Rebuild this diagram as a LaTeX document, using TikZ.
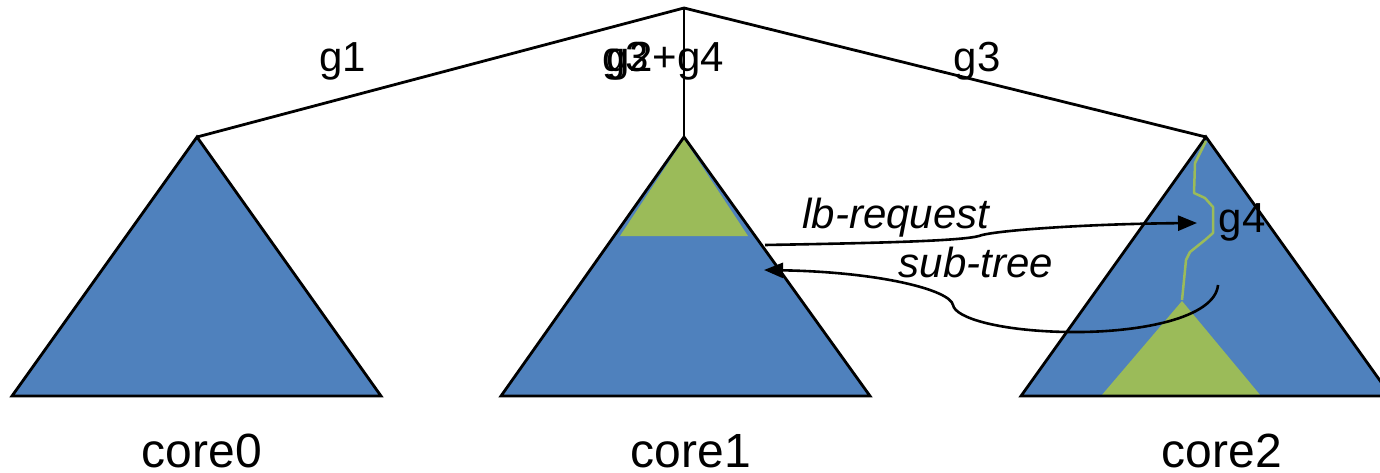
\documentclass[tikz,border=0pt]{standalone}
\usepackage{fontspec}
\setmainfont{Liberation Sans}
\usetikzlibrary{arrows.meta}
\definecolor{triblue}{HTML}{4F81BD}
\definecolor{trigreen}{HTML}{9BBB59}
\tikzset{
  tri/.style={fill=triblue},
  triline/.style={draw=black, line width=2.8pt, line join=miter},
  subfill/.style={fill=trigreen},
  treeline/.style={draw=black, line width=2.8pt},
  glabel/.style={anchor=base, inner sep=0pt, font=\fontsize{42}{44}\selectfont},
  corelabel/.style={anchor=base, inner sep=0pt, font=\fontsize{48}{50}\selectfont},
  msglabel/.style={anchor=base, inner sep=0pt, font=\fontsize{42}{44}\selectfont\itshape},
  msgarrow/.style={draw=black, line width=2.6pt, -{Triangle[length=19pt,width=15pt]}},
  path4/.style={draw=trigreen, line width=2.5pt, line join=round}
}
\begin{document}
\begin{tikzpicture}[x=1pt,y=-1pt]
\useasboundingbox (0,0) rectangle (1380,473);
\clip (0,0) rectangle (1380,473);
% coordinates
\coordinate (root) at (684,8);
\coordinate (a0) at (197,137);
\coordinate (a1) at (684,137);
\coordinate (a2) at (1206,137);
% triangles
\fill[tri] (a0) -- (381,396) -- (12,396) -- cycle;
\fill[tri] (a1) -- (870,396) -- (501,396) -- cycle;
\fill[tri] (a2) -- (1391,396) -- (1021,396) -- cycle;
% green subtrees
\fill[subfill] (684,139) -- (748,236) -- (620,236) -- cycle;
\fill[subfill] (1182,301) -- (1261,396) -- (1101,396) -- cycle;
% outlines
\draw[triline] (a0) -- (381,396) -- (12,396) -- cycle;
\draw[triline] (a1) -- (870,396) -- (501,396) -- cycle;
\draw[triline] (a2) -- (1391,396) -- (1021,396) -- cycle;
% tree lines
\draw[treeline] (a0) -- (root) -- (a2);
\draw[treeline] (root) -- (a1);
% green path
\draw[path4] (1206,141) -- (1195,163) -- (1194,193) -- (1205,198) -- (1213,207) -- (1213,233) -- (1205,240) -- (1190,252) -- (1186,260) -- (1182,300);
% labels
\node[glabel] (g1) at (343,72) {g1};
\node[glabel, anchor=base west] (g3b) at (602,72) {g3};
\node[glabel, anchor=base west] (g24) at (606,72) {g2+g4};
\node[glabel] (g3) at (977,72) {g3};
\node[glabel] (g4) at (1242,232) {g4};
\node[corelabel] (c0) at (202,467) {core0};
\node[corelabel] (c1) at (691,467) {core1};
\node[corelabel] (c2) at (1222,467) {core2};
\node[msglabel] (lbr) at (896,228) {lb-request};
\node[msglabel] (sub) at (976,277) {sub-tree};
% arrows
\coordinate (lbs) at (765,245);
\coordinate (lbe) at (1197,223);
\coordinate (sts) at (1218,285);
\coordinate (ste) at (764,270);
\draw[msgarrow] (lbs) .. controls (880,243) and (960,241) .. (979,236) .. controls (990,231) and (1080,224) .. (lbe);
\draw[msgarrow] (sts) .. controls (1215,318) and (1140,333) .. (1068,332) .. controls (1000,331) and (955,318) .. (953,305) .. controls (950,290) and (880,272) .. (ste);
\end{tikzpicture}
\end{document}
